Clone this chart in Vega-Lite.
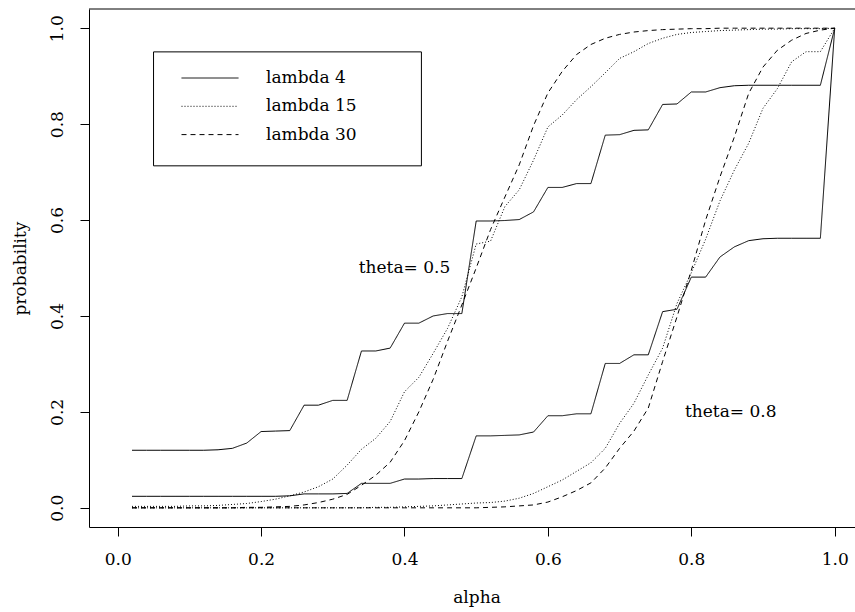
{
  "$schema": "https://vega.github.io/schema/vega-lite/v6.json",
  "width": 766,
  "height": 518,
  "autosize": {"type": "none"},
  "padding": {"left": 89, "top": 9, "right": 0, "bottom": 85},
  "background": "white",
  "config": {
    "view": {"stroke": null},
    "font": "DejaVu Serif",
    "text": {"font": "DejaVu Serif"}
  },
  "datasets": {
    "curves": [
      {"lambda":"lambda 4","theta":0.5,"alpha":0.02,"prob":0.120},
      {"lambda":"lambda 4","theta":0.5,"alpha":0.04,"prob":0.120},
      {"lambda":"lambda 4","theta":0.5,"alpha":0.06,"prob":0.120},
      {"lambda":"lambda 4","theta":0.5,"alpha":0.08,"prob":0.120},
      {"lambda":"lambda 4","theta":0.5,"alpha":0.10,"prob":0.120},
      {"lambda":"lambda 4","theta":0.5,"alpha":0.12,"prob":0.120},
      {"lambda":"lambda 4","theta":0.5,"alpha":0.14,"prob":0.121},
      {"lambda":"lambda 4","theta":0.5,"alpha":0.16,"prob":0.124},
      {"lambda":"lambda 4","theta":0.5,"alpha":0.18,"prob":0.135},
      {"lambda":"lambda 4","theta":0.5,"alpha":0.20,"prob":0.159},
      {"lambda":"lambda 4","theta":0.5,"alpha":0.22,"prob":0.160},
      {"lambda":"lambda 4","theta":0.5,"alpha":0.24,"prob":0.161},
      {"lambda":"lambda 4","theta":0.5,"alpha":0.26,"prob":0.214},
      {"lambda":"lambda 4","theta":0.5,"alpha":0.28,"prob":0.214},
      {"lambda":"lambda 4","theta":0.5,"alpha":0.30,"prob":0.224},
      {"lambda":"lambda 4","theta":0.5,"alpha":0.32,"prob":0.224},
      {"lambda":"lambda 4","theta":0.5,"alpha":0.34,"prob":0.327},
      {"lambda":"lambda 4","theta":0.5,"alpha":0.36,"prob":0.327},
      {"lambda":"lambda 4","theta":0.5,"alpha":0.38,"prob":0.333},
      {"lambda":"lambda 4","theta":0.5,"alpha":0.40,"prob":0.385},
      {"lambda":"lambda 4","theta":0.5,"alpha":0.42,"prob":0.385},
      {"lambda":"lambda 4","theta":0.5,"alpha":0.44,"prob":0.400},
      {"lambda":"lambda 4","theta":0.5,"alpha":0.46,"prob":0.405},
      {"lambda":"lambda 4","theta":0.5,"alpha":0.48,"prob":0.405},
      {"lambda":"lambda 4","theta":0.5,"alpha":0.50,"prob":0.598},
      {"lambda":"lambda 4","theta":0.5,"alpha":0.52,"prob":0.598},
      {"lambda":"lambda 4","theta":0.5,"alpha":0.54,"prob":0.599},
      {"lambda":"lambda 4","theta":0.5,"alpha":0.56,"prob":0.601},
      {"lambda":"lambda 4","theta":0.5,"alpha":0.58,"prob":0.617},
      {"lambda":"lambda 4","theta":0.5,"alpha":0.60,"prob":0.668},
      {"lambda":"lambda 4","theta":0.5,"alpha":0.62,"prob":0.668},
      {"lambda":"lambda 4","theta":0.5,"alpha":0.64,"prob":0.676},
      {"lambda":"lambda 4","theta":0.5,"alpha":0.66,"prob":0.676},
      {"lambda":"lambda 4","theta":0.5,"alpha":0.68,"prob":0.777},
      {"lambda":"lambda 4","theta":0.5,"alpha":0.70,"prob":0.778},
      {"lambda":"lambda 4","theta":0.5,"alpha":0.72,"prob":0.787},
      {"lambda":"lambda 4","theta":0.5,"alpha":0.74,"prob":0.788},
      {"lambda":"lambda 4","theta":0.5,"alpha":0.76,"prob":0.841},
      {"lambda":"lambda 4","theta":0.5,"alpha":0.78,"prob":0.842},
      {"lambda":"lambda 4","theta":0.5,"alpha":0.80,"prob":0.867},
      {"lambda":"lambda 4","theta":0.5,"alpha":0.82,"prob":0.867},
      {"lambda":"lambda 4","theta":0.5,"alpha":0.84,"prob":0.876},
      {"lambda":"lambda 4","theta":0.5,"alpha":0.86,"prob":0.880},
      {"lambda":"lambda 4","theta":0.5,"alpha":0.88,"prob":0.881},
      {"lambda":"lambda 4","theta":0.5,"alpha":0.90,"prob":0.881},
      {"lambda":"lambda 4","theta":0.5,"alpha":0.92,"prob":0.881},
      {"lambda":"lambda 4","theta":0.5,"alpha":0.94,"prob":0.881},
      {"lambda":"lambda 4","theta":0.5,"alpha":0.96,"prob":0.881},
      {"lambda":"lambda 4","theta":0.5,"alpha":0.98,"prob":0.881},
      {"lambda":"lambda 4","theta":0.5,"alpha":1.00,"prob":1.000},

      {"lambda":"lambda 4","theta":0.8,"alpha":0.02,"prob":0.024},
      {"lambda":"lambda 4","theta":0.8,"alpha":0.04,"prob":0.024},
      {"lambda":"lambda 4","theta":0.8,"alpha":0.06,"prob":0.024},
      {"lambda":"lambda 4","theta":0.8,"alpha":0.08,"prob":0.024},
      {"lambda":"lambda 4","theta":0.8,"alpha":0.10,"prob":0.024},
      {"lambda":"lambda 4","theta":0.8,"alpha":0.12,"prob":0.024},
      {"lambda":"lambda 4","theta":0.8,"alpha":0.14,"prob":0.024},
      {"lambda":"lambda 4","theta":0.8,"alpha":0.16,"prob":0.024},
      {"lambda":"lambda 4","theta":0.8,"alpha":0.18,"prob":0.024},
      {"lambda":"lambda 4","theta":0.8,"alpha":0.20,"prob":0.024},
      {"lambda":"lambda 4","theta":0.8,"alpha":0.22,"prob":0.024},
      {"lambda":"lambda 4","theta":0.8,"alpha":0.24,"prob":0.025},
      {"lambda":"lambda 4","theta":0.8,"alpha":0.26,"prob":0.029},
      {"lambda":"lambda 4","theta":0.8,"alpha":0.28,"prob":0.029},
      {"lambda":"lambda 4","theta":0.8,"alpha":0.30,"prob":0.029},
      {"lambda":"lambda 4","theta":0.8,"alpha":0.32,"prob":0.030},
      {"lambda":"lambda 4","theta":0.8,"alpha":0.34,"prob":0.051},
      {"lambda":"lambda 4","theta":0.8,"alpha":0.36,"prob":0.051},
      {"lambda":"lambda 4","theta":0.8,"alpha":0.38,"prob":0.051},
      {"lambda":"lambda 4","theta":0.8,"alpha":0.40,"prob":0.060},
      {"lambda":"lambda 4","theta":0.8,"alpha":0.42,"prob":0.060},
      {"lambda":"lambda 4","theta":0.8,"alpha":0.44,"prob":0.061},
      {"lambda":"lambda 4","theta":0.8,"alpha":0.46,"prob":0.061},
      {"lambda":"lambda 4","theta":0.8,"alpha":0.48,"prob":0.061},
      {"lambda":"lambda 4","theta":0.8,"alpha":0.50,"prob":0.150},
      {"lambda":"lambda 4","theta":0.8,"alpha":0.52,"prob":0.150},
      {"lambda":"lambda 4","theta":0.8,"alpha":0.54,"prob":0.151},
      {"lambda":"lambda 4","theta":0.8,"alpha":0.56,"prob":0.152},
      {"lambda":"lambda 4","theta":0.8,"alpha":0.58,"prob":0.158},
      {"lambda":"lambda 4","theta":0.8,"alpha":0.60,"prob":0.192},
      {"lambda":"lambda 4","theta":0.8,"alpha":0.62,"prob":0.192},
      {"lambda":"lambda 4","theta":0.8,"alpha":0.64,"prob":0.196},
      {"lambda":"lambda 4","theta":0.8,"alpha":0.66,"prob":0.196},
      {"lambda":"lambda 4","theta":0.8,"alpha":0.68,"prob":0.301},
      {"lambda":"lambda 4","theta":0.8,"alpha":0.70,"prob":0.301},
      {"lambda":"lambda 4","theta":0.8,"alpha":0.72,"prob":0.319},
      {"lambda":"lambda 4","theta":0.8,"alpha":0.74,"prob":0.319},
      {"lambda":"lambda 4","theta":0.8,"alpha":0.76,"prob":0.409},
      {"lambda":"lambda 4","theta":0.8,"alpha":0.78,"prob":0.414},
      {"lambda":"lambda 4","theta":0.8,"alpha":0.80,"prob":0.481},
      {"lambda":"lambda 4","theta":0.8,"alpha":0.82,"prob":0.481},
      {"lambda":"lambda 4","theta":0.8,"alpha":0.84,"prob":0.523},
      {"lambda":"lambda 4","theta":0.8,"alpha":0.86,"prob":0.544},
      {"lambda":"lambda 4","theta":0.8,"alpha":0.88,"prob":0.557},
      {"lambda":"lambda 4","theta":0.8,"alpha":0.90,"prob":0.561},
      {"lambda":"lambda 4","theta":0.8,"alpha":0.92,"prob":0.562},
      {"lambda":"lambda 4","theta":0.8,"alpha":0.94,"prob":0.562},
      {"lambda":"lambda 4","theta":0.8,"alpha":0.96,"prob":0.562},
      {"lambda":"lambda 4","theta":0.8,"alpha":0.98,"prob":0.562},
      {"lambda":"lambda 4","theta":0.8,"alpha":1.00,"prob":1.000},

      {"lambda":"lambda 15","theta":0.5,"alpha":0.02,"prob":0.003},
      {"lambda":"lambda 15","theta":0.5,"alpha":0.04,"prob":0.003},
      {"lambda":"lambda 15","theta":0.5,"alpha":0.06,"prob":0.003},
      {"lambda":"lambda 15","theta":0.5,"alpha":0.08,"prob":0.003},
      {"lambda":"lambda 15","theta":0.5,"alpha":0.10,"prob":0.004},
      {"lambda":"lambda 15","theta":0.5,"alpha":0.12,"prob":0.004},
      {"lambda":"lambda 15","theta":0.5,"alpha":0.14,"prob":0.005},
      {"lambda":"lambda 15","theta":0.5,"alpha":0.16,"prob":0.007},
      {"lambda":"lambda 15","theta":0.5,"alpha":0.18,"prob":0.009},
      {"lambda":"lambda 15","theta":0.5,"alpha":0.20,"prob":0.013},
      {"lambda":"lambda 15","theta":0.5,"alpha":0.22,"prob":0.018},
      {"lambda":"lambda 15","theta":0.5,"alpha":0.24,"prob":0.025},
      {"lambda":"lambda 15","theta":0.5,"alpha":0.26,"prob":0.033},
      {"lambda":"lambda 15","theta":0.5,"alpha":0.28,"prob":0.044},
      {"lambda":"lambda 15","theta":0.5,"alpha":0.30,"prob":0.060},
      {"lambda":"lambda 15","theta":0.5,"alpha":0.32,"prob":0.089},
      {"lambda":"lambda 15","theta":0.5,"alpha":0.34,"prob":0.122},
      {"lambda":"lambda 15","theta":0.5,"alpha":0.36,"prob":0.145},
      {"lambda":"lambda 15","theta":0.5,"alpha":0.38,"prob":0.180},
      {"lambda":"lambda 15","theta":0.5,"alpha":0.40,"prob":0.242},
      {"lambda":"lambda 15","theta":0.5,"alpha":0.42,"prob":0.272},
      {"lambda":"lambda 15","theta":0.5,"alpha":0.44,"prob":0.322},
      {"lambda":"lambda 15","theta":0.5,"alpha":0.46,"prob":0.374},
      {"lambda":"lambda 15","theta":0.5,"alpha":0.48,"prob":0.440},
      {"lambda":"lambda 15","theta":0.5,"alpha":0.50,"prob":0.550},
      {"lambda":"lambda 15","theta":0.5,"alpha":0.52,"prob":0.556},
      {"lambda":"lambda 15","theta":0.5,"alpha":0.54,"prob":0.628},
      {"lambda":"lambda 15","theta":0.5,"alpha":0.56,"prob":0.663},
      {"lambda":"lambda 15","theta":0.5,"alpha":0.58,"prob":0.725},
      {"lambda":"lambda 15","theta":0.5,"alpha":0.60,"prob":0.794},
      {"lambda":"lambda 15","theta":0.5,"alpha":0.62,"prob":0.819},
      {"lambda":"lambda 15","theta":0.5,"alpha":0.64,"prob":0.851},
      {"lambda":"lambda 15","theta":0.5,"alpha":0.66,"prob":0.878},
      {"lambda":"lambda 15","theta":0.5,"alpha":0.68,"prob":0.907},
      {"lambda":"lambda 15","theta":0.5,"alpha":0.70,"prob":0.937},
      {"lambda":"lambda 15","theta":0.5,"alpha":0.72,"prob":0.951},
      {"lambda":"lambda 15","theta":0.5,"alpha":0.74,"prob":0.968},
      {"lambda":"lambda 15","theta":0.5,"alpha":0.76,"prob":0.979},
      {"lambda":"lambda 15","theta":0.5,"alpha":0.78,"prob":0.987},
      {"lambda":"lambda 15","theta":0.5,"alpha":0.80,"prob":0.991},
      {"lambda":"lambda 15","theta":0.5,"alpha":0.82,"prob":0.993},
      {"lambda":"lambda 15","theta":0.5,"alpha":0.84,"prob":0.995},
      {"lambda":"lambda 15","theta":0.5,"alpha":0.86,"prob":0.996},
      {"lambda":"lambda 15","theta":0.5,"alpha":0.88,"prob":0.997},
      {"lambda":"lambda 15","theta":0.5,"alpha":0.90,"prob":0.998},
      {"lambda":"lambda 15","theta":0.5,"alpha":0.92,"prob":0.998},
      {"lambda":"lambda 15","theta":0.5,"alpha":0.94,"prob":0.999},
      {"lambda":"lambda 15","theta":0.5,"alpha":0.96,"prob":0.999},
      {"lambda":"lambda 15","theta":0.5,"alpha":0.98,"prob":0.999},
      {"lambda":"lambda 15","theta":0.5,"alpha":1.00,"prob":1.000},

      {"lambda":"lambda 15","theta":0.8,"alpha":0.02,"prob":0.000},
      {"lambda":"lambda 15","theta":0.8,"alpha":0.04,"prob":0.000},
      {"lambda":"lambda 15","theta":0.8,"alpha":0.06,"prob":0.000},
      {"lambda":"lambda 15","theta":0.8,"alpha":0.08,"prob":0.000},
      {"lambda":"lambda 15","theta":0.8,"alpha":0.10,"prob":0.000},
      {"lambda":"lambda 15","theta":0.8,"alpha":0.12,"prob":0.000},
      {"lambda":"lambda 15","theta":0.8,"alpha":0.14,"prob":0.000},
      {"lambda":"lambda 15","theta":0.8,"alpha":0.16,"prob":0.000},
      {"lambda":"lambda 15","theta":0.8,"alpha":0.18,"prob":0.000},
      {"lambda":"lambda 15","theta":0.8,"alpha":0.20,"prob":0.000},
      {"lambda":"lambda 15","theta":0.8,"alpha":0.22,"prob":0.000},
      {"lambda":"lambda 15","theta":0.8,"alpha":0.24,"prob":0.000},
      {"lambda":"lambda 15","theta":0.8,"alpha":0.26,"prob":0.000},
      {"lambda":"lambda 15","theta":0.8,"alpha":0.28,"prob":0.000},
      {"lambda":"lambda 15","theta":0.8,"alpha":0.30,"prob":0.000},
      {"lambda":"lambda 15","theta":0.8,"alpha":0.32,"prob":0.000},
      {"lambda":"lambda 15","theta":0.8,"alpha":0.34,"prob":0.000},
      {"lambda":"lambda 15","theta":0.8,"alpha":0.36,"prob":0.001},
      {"lambda":"lambda 15","theta":0.8,"alpha":0.38,"prob":0.001},
      {"lambda":"lambda 15","theta":0.8,"alpha":0.40,"prob":0.002},
      {"lambda":"lambda 15","theta":0.8,"alpha":0.42,"prob":0.003},
      {"lambda":"lambda 15","theta":0.8,"alpha":0.44,"prob":0.004},
      {"lambda":"lambda 15","theta":0.8,"alpha":0.46,"prob":0.006},
      {"lambda":"lambda 15","theta":0.8,"alpha":0.48,"prob":0.008},
      {"lambda":"lambda 15","theta":0.8,"alpha":0.50,"prob":0.010},
      {"lambda":"lambda 15","theta":0.8,"alpha":0.52,"prob":0.011},
      {"lambda":"lambda 15","theta":0.8,"alpha":0.54,"prob":0.014},
      {"lambda":"lambda 15","theta":0.8,"alpha":0.56,"prob":0.020},
      {"lambda":"lambda 15","theta":0.8,"alpha":0.58,"prob":0.030},
      {"lambda":"lambda 15","theta":0.8,"alpha":0.60,"prob":0.044},
      {"lambda":"lambda 15","theta":0.8,"alpha":0.62,"prob":0.058},
      {"lambda":"lambda 15","theta":0.8,"alpha":0.64,"prob":0.076},
      {"lambda":"lambda 15","theta":0.8,"alpha":0.66,"prob":0.094},
      {"lambda":"lambda 15","theta":0.8,"alpha":0.68,"prob":0.124},
      {"lambda":"lambda 15","theta":0.8,"alpha":0.70,"prob":0.176},
      {"lambda":"lambda 15","theta":0.8,"alpha":0.72,"prob":0.218},
      {"lambda":"lambda 15","theta":0.8,"alpha":0.74,"prob":0.277},
      {"lambda":"lambda 15","theta":0.8,"alpha":0.76,"prob":0.333},
      {"lambda":"lambda 15","theta":0.8,"alpha":0.78,"prob":0.426},
      {"lambda":"lambda 15","theta":0.8,"alpha":0.80,"prob":0.490},
      {"lambda":"lambda 15","theta":0.8,"alpha":0.82,"prob":0.560},
      {"lambda":"lambda 15","theta":0.8,"alpha":0.84,"prob":0.640},
      {"lambda":"lambda 15","theta":0.8,"alpha":0.86,"prob":0.704},
      {"lambda":"lambda 15","theta":0.8,"alpha":0.88,"prob":0.760},
      {"lambda":"lambda 15","theta":0.8,"alpha":0.90,"prob":0.833},
      {"lambda":"lambda 15","theta":0.8,"alpha":0.92,"prob":0.874},
      {"lambda":"lambda 15","theta":0.8,"alpha":0.94,"prob":0.930},
      {"lambda":"lambda 15","theta":0.8,"alpha":0.96,"prob":0.951},
      {"lambda":"lambda 15","theta":0.8,"alpha":0.98,"prob":0.951},
      {"lambda":"lambda 15","theta":0.8,"alpha":1.00,"prob":1.000},

      {"lambda":"lambda 30","theta":0.5,"alpha":0.02,"prob":0.000},
      {"lambda":"lambda 30","theta":0.5,"alpha":0.04,"prob":0.000},
      {"lambda":"lambda 30","theta":0.5,"alpha":0.06,"prob":0.000},
      {"lambda":"lambda 30","theta":0.5,"alpha":0.08,"prob":0.000},
      {"lambda":"lambda 30","theta":0.5,"alpha":0.10,"prob":0.000},
      {"lambda":"lambda 30","theta":0.5,"alpha":0.12,"prob":0.000},
      {"lambda":"lambda 30","theta":0.5,"alpha":0.14,"prob":0.000},
      {"lambda":"lambda 30","theta":0.5,"alpha":0.16,"prob":0.000},
      {"lambda":"lambda 30","theta":0.5,"alpha":0.18,"prob":0.001},
      {"lambda":"lambda 30","theta":0.5,"alpha":0.20,"prob":0.001},
      {"lambda":"lambda 30","theta":0.5,"alpha":0.22,"prob":0.002},
      {"lambda":"lambda 30","theta":0.5,"alpha":0.24,"prob":0.003},
      {"lambda":"lambda 30","theta":0.5,"alpha":0.26,"prob":0.006},
      {"lambda":"lambda 30","theta":0.5,"alpha":0.28,"prob":0.011},
      {"lambda":"lambda 30","theta":0.5,"alpha":0.30,"prob":0.018},
      {"lambda":"lambda 30","theta":0.5,"alpha":0.32,"prob":0.028},
      {"lambda":"lambda 30","theta":0.5,"alpha":0.34,"prob":0.047},
      {"lambda":"lambda 30","theta":0.5,"alpha":0.36,"prob":0.068},
      {"lambda":"lambda 30","theta":0.5,"alpha":0.38,"prob":0.095},
      {"lambda":"lambda 30","theta":0.5,"alpha":0.40,"prob":0.140},
      {"lambda":"lambda 30","theta":0.5,"alpha":0.42,"prob":0.200},
      {"lambda":"lambda 30","theta":0.5,"alpha":0.44,"prob":0.268},
      {"lambda":"lambda 30","theta":0.5,"alpha":0.46,"prob":0.347},
      {"lambda":"lambda 30","theta":0.5,"alpha":0.48,"prob":0.423},
      {"lambda":"lambda 30","theta":0.5,"alpha":0.50,"prob":0.500},
      {"lambda":"lambda 30","theta":0.5,"alpha":0.52,"prob":0.580},
      {"lambda":"lambda 30","theta":0.5,"alpha":0.54,"prob":0.648},
      {"lambda":"lambda 30","theta":0.5,"alpha":0.56,"prob":0.715},
      {"lambda":"lambda 30","theta":0.5,"alpha":0.58,"prob":0.797},
      {"lambda":"lambda 30","theta":0.5,"alpha":0.60,"prob":0.865},
      {"lambda":"lambda 30","theta":0.5,"alpha":0.62,"prob":0.910},
      {"lambda":"lambda 30","theta":0.5,"alpha":0.64,"prob":0.945},
      {"lambda":"lambda 30","theta":0.5,"alpha":0.66,"prob":0.966},
      {"lambda":"lambda 30","theta":0.5,"alpha":0.68,"prob":0.979},
      {"lambda":"lambda 30","theta":0.5,"alpha":0.70,"prob":0.987},
      {"lambda":"lambda 30","theta":0.5,"alpha":0.72,"prob":0.992},
      {"lambda":"lambda 30","theta":0.5,"alpha":0.74,"prob":0.995},
      {"lambda":"lambda 30","theta":0.5,"alpha":0.76,"prob":0.997},
      {"lambda":"lambda 30","theta":0.5,"alpha":0.78,"prob":0.998},
      {"lambda":"lambda 30","theta":0.5,"alpha":0.80,"prob":0.999},
      {"lambda":"lambda 30","theta":0.5,"alpha":0.82,"prob":0.999},
      {"lambda":"lambda 30","theta":0.5,"alpha":0.84,"prob":1.000},
      {"lambda":"lambda 30","theta":0.5,"alpha":0.86,"prob":1.000},
      {"lambda":"lambda 30","theta":0.5,"alpha":0.88,"prob":1.000},
      {"lambda":"lambda 30","theta":0.5,"alpha":0.90,"prob":1.000},
      {"lambda":"lambda 30","theta":0.5,"alpha":0.92,"prob":1.000},
      {"lambda":"lambda 30","theta":0.5,"alpha":0.94,"prob":1.000},
      {"lambda":"lambda 30","theta":0.5,"alpha":0.96,"prob":1.000},
      {"lambda":"lambda 30","theta":0.5,"alpha":0.98,"prob":1.000},
      {"lambda":"lambda 30","theta":0.5,"alpha":1.00,"prob":1.000},

      {"lambda":"lambda 30","theta":0.8,"alpha":0.02,"prob":0.000},
      {"lambda":"lambda 30","theta":0.8,"alpha":0.04,"prob":0.000},
      {"lambda":"lambda 30","theta":0.8,"alpha":0.06,"prob":0.000},
      {"lambda":"lambda 30","theta":0.8,"alpha":0.08,"prob":0.000},
      {"lambda":"lambda 30","theta":0.8,"alpha":0.10,"prob":0.000},
      {"lambda":"lambda 30","theta":0.8,"alpha":0.12,"prob":0.000},
      {"lambda":"lambda 30","theta":0.8,"alpha":0.14,"prob":0.000},
      {"lambda":"lambda 30","theta":0.8,"alpha":0.16,"prob":0.000},
      {"lambda":"lambda 30","theta":0.8,"alpha":0.18,"prob":0.000},
      {"lambda":"lambda 30","theta":0.8,"alpha":0.20,"prob":0.000},
      {"lambda":"lambda 30","theta":0.8,"alpha":0.22,"prob":0.000},
      {"lambda":"lambda 30","theta":0.8,"alpha":0.24,"prob":0.000},
      {"lambda":"lambda 30","theta":0.8,"alpha":0.26,"prob":0.000},
      {"lambda":"lambda 30","theta":0.8,"alpha":0.28,"prob":0.000},
      {"lambda":"lambda 30","theta":0.8,"alpha":0.30,"prob":0.000},
      {"lambda":"lambda 30","theta":0.8,"alpha":0.32,"prob":0.000},
      {"lambda":"lambda 30","theta":0.8,"alpha":0.34,"prob":0.000},
      {"lambda":"lambda 30","theta":0.8,"alpha":0.36,"prob":0.000},
      {"lambda":"lambda 30","theta":0.8,"alpha":0.38,"prob":0.000},
      {"lambda":"lambda 30","theta":0.8,"alpha":0.40,"prob":0.000},
      {"lambda":"lambda 30","theta":0.8,"alpha":0.42,"prob":0.000},
      {"lambda":"lambda 30","theta":0.8,"alpha":0.44,"prob":0.000},
      {"lambda":"lambda 30","theta":0.8,"alpha":0.46,"prob":0.000},
      {"lambda":"lambda 30","theta":0.8,"alpha":0.48,"prob":0.000},
      {"lambda":"lambda 30","theta":0.8,"alpha":0.50,"prob":0.000},
      {"lambda":"lambda 30","theta":0.8,"alpha":0.52,"prob":0.001},
      {"lambda":"lambda 30","theta":0.8,"alpha":0.54,"prob":0.002},
      {"lambda":"lambda 30","theta":0.8,"alpha":0.56,"prob":0.004},
      {"lambda":"lambda 30","theta":0.8,"alpha":0.58,"prob":0.006},
      {"lambda":"lambda 30","theta":0.8,"alpha":0.60,"prob":0.012},
      {"lambda":"lambda 30","theta":0.8,"alpha":0.62,"prob":0.023},
      {"lambda":"lambda 30","theta":0.8,"alpha":0.64,"prob":0.036},
      {"lambda":"lambda 30","theta":0.8,"alpha":0.66,"prob":0.052},
      {"lambda":"lambda 30","theta":0.8,"alpha":0.68,"prob":0.083},
      {"lambda":"lambda 30","theta":0.8,"alpha":0.70,"prob":0.124},
      {"lambda":"lambda 30","theta":0.8,"alpha":0.72,"prob":0.160},
      {"lambda":"lambda 30","theta":0.8,"alpha":0.74,"prob":0.208},
      {"lambda":"lambda 30","theta":0.8,"alpha":0.76,"prob":0.305},
      {"lambda":"lambda 30","theta":0.8,"alpha":0.78,"prob":0.398},
      {"lambda":"lambda 30","theta":0.8,"alpha":0.80,"prob":0.495},
      {"lambda":"lambda 30","theta":0.8,"alpha":0.82,"prob":0.600},
      {"lambda":"lambda 30","theta":0.8,"alpha":0.84,"prob":0.690},
      {"lambda":"lambda 30","theta":0.8,"alpha":0.86,"prob":0.773},
      {"lambda":"lambda 30","theta":0.8,"alpha":0.88,"prob":0.864},
      {"lambda":"lambda 30","theta":0.8,"alpha":0.90,"prob":0.919},
      {"lambda":"lambda 30","theta":0.8,"alpha":0.92,"prob":0.954},
      {"lambda":"lambda 30","theta":0.8,"alpha":0.94,"prob":0.975},
      {"lambda":"lambda 30","theta":0.8,"alpha":0.96,"prob":0.989},
      {"lambda":"lambda 30","theta":0.8,"alpha":0.98,"prob":0.996},
      {"lambda":"lambda 30","theta":0.8,"alpha":1.00,"prob":1.000}
    ],
    "labels": [
      {"label": "theta= 0.5", "alpha": 0.4, "prob": 0.5},
      {"label": "theta= 0.8", "alpha": 0.855, "prob": 0.2}
    ]
  },
  "layer": [
    {
      "data": {"name": "curves"},
      "mark": {"type": "line", "strokeWidth": 1, "color": "black"},
      "encoding": {
        "x": {
          "field": "alpha", "type": "quantitative",
          "scale": {"domain": [-0.04, 1.0283], "nice": false, "zero": false},
          "axis": {
            "title": "alpha", "values": [0, 0.2, 0.4, 0.6, 0.8, 1.0], "format": ".1f",
            "grid": false, "tickSize": 9, "labelPadding": 15, "labelFlush": false,
            "domainColor": "black", "tickColor": "black", "labelColor": "black", "titleColor": "black",
            "labelFont": "DejaVu Serif", "labelFontSize": 17, "labelBaseline": "top",
            "titleFont": "DejaVu Serif", "titleFontSize": 17, "titleFontWeight": "normal",
            "titleX": 387.5, "titleY": 75, "titleBaseline": "alphabetic", "titleAlign": "center",
            "labelOverlap": false
          }
        },
        "y": {
          "field": "prob", "type": "quantitative",
          "scale": {"domain": [-0.04, 1.04], "nice": false, "zero": false},
          "axis": {
            "title": "probability", "values": [0, 0.2, 0.4, 0.6, 0.8, 1.0], "format": ".1f",
            "grid": false, "tickSize": 9, "labelPadding": 18, "labelFlush": false,
            "domainColor": "black", "tickColor": "black", "labelColor": "black", "titleColor": "black",
            "labelFont": "DejaVu Serif", "labelFontSize": 17,
            "labelAngle": 270, "labelAlign": "center", "labelBaseline": "alphabetic",
            "titleFont": "DejaVu Serif", "titleFontSize": 17, "titleFontWeight": "normal",
            "titleAngle": 270, "titleX": -64, "titleY": 259, "titleBaseline": "alphabetic", "titleAlign": "center",
            "labelOverlap": false
          }
        },
        "detail": {"field": "theta", "type": "nominal"},
        "strokeDash": {
          "field": "lambda", "type": "nominal",
          "scale": {"domain": ["lambda 4", "lambda 15", "lambda 30"], "range": [[1, 0], [1, 2], [5, 4]]},
          "legend": {
            "orient": "none", "legendX": 92, "legendY": 56, "title": null,
            "symbolType": "stroke", "symbolSize": 3249, "symbolStrokeWidth": 1,
            "symbolStrokeColor": "black", "clipHeight": 26, "rowPadding": 2.3,
            "labelOffset": 27, "labelFont": "DejaVu Serif", "labelFontSize": 17,
            "labelColor": "black", "labelLimit": 300, "padding": 0
          }
        }
      }
    },
    {
      "data": {"values": [{}]},
      "mark": {"type": "rect", "fillOpacity": 0, "stroke": "black", "strokeWidth": 1},
      "encoding": {
        "x": {"datum": 0.05, "type": "quantitative"},
        "x2": {"datum": 0.4236},
        "y": {"datum": 0.9506, "type": "quantitative"},
        "y2": {"datum": 0.713}
      }
    },
    {
      "data": {"values": [{}]},
      "mark": {"type": "rule", "stroke": "black", "strokeWidth": 1},
      "encoding": {"y": {"datum": 1.04, "type": "quantitative"}}
    },
    {
      "data": {"name": "labels"},
      "mark": {"type": "text", "font": "DejaVu Serif", "fontSize": 17, "color": "black", "align": "center", "baseline": "middle"},
      "encoding": {
        "x": {"field": "alpha", "type": "quantitative"},
        "y": {"field": "prob", "type": "quantitative"},
        "text": {"field": "label"}
      }
    }
  ]
}
